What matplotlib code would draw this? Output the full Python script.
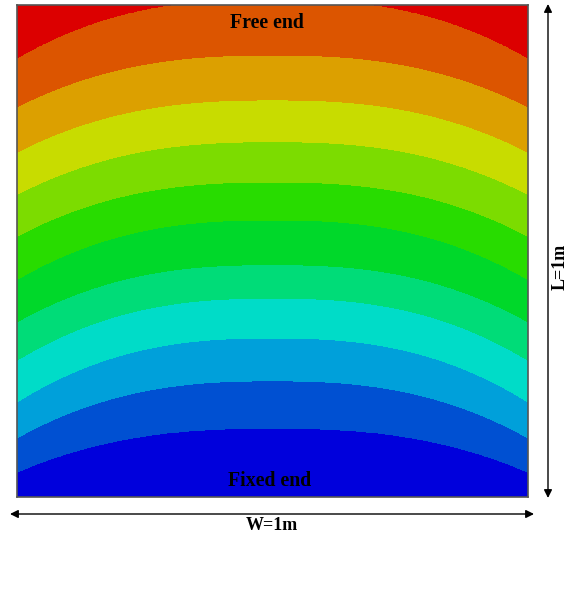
import numpy as np
import matplotlib
matplotlib.use('Agg')
import matplotlib.pyplot as plt

# band boundaries (fraction of L from the fixed end), read at the centre line and at the side edges
centre_bounds = [0.140, 0.236, 0.323, 0.404, 0.472, 0.563, 0.640, 0.722, 0.807, 0.898, 1.012]
edge_bounds = [0.051, 0.120, 0.193, 0.278, 0.356, 0.442, 0.530, 0.615, 0.701, 0.793, 0.892]
band_colors = ['#0000DC', '#0050D2', '#00A0DA', '#00DCC8', '#00DC78', '#00D82A',
               '#28DC00', '#7CDC00', '#C8DC00', '#DCA000', '#DC5500', '#DC0000']
bow_power = 2.5     # flatness of the bands across the width
top_label = 'Free end'
bottom_label = 'Fixed end'
w_label = 'W=1m'
l_label = 'L=1m'

W, H = 581, 605
fig = plt.figure(figsize=(W / 100, H / 100), dpi=100)

def fx(px):
    return px / W

def fy(py):
    return 1 - py / H

ax = fig.add_axes([fx(17), fy(497), fx(528) - fx(17), fy(5) - fy(497)])

# band index field: boundaries bend from centre value down to edge value
x = np.linspace(0, 1, 700)
y = np.linspace(0, 1, 700)
c = np.array(centre_bounds)
e = np.array(edge_bounds)
n = len(c)
idx = np.arange(n) + 0.5
Z = np.zeros((len(y), len(x)))
for j, xv in enumerate(x):
    u = abs(2 * xv - 1) ** bow_power
    yb = c - (c - e) * u
    Z[:, j] = np.interp(y, np.r_[-1.0, yb, 2.0], np.r_[-1.0, idx, n + 1.0])

levels = np.r_[-2.0, idx, n + 2.0]
ax.contourf(x, y, Z, levels=levels, colors=band_colors)
ax.set_xlim(0, 1)
ax.set_ylim(0, 1)
ax.set_xticks([])
ax.set_yticks([])
for s in ax.spines.values():
    s.set_color('#555555')
    s.set_linewidth(1.2)

font = dict(family='Liberation Serif', fontweight='bold', color='black')
fig.text(fx(267), fy(23), top_label, ha='center', va='center', fontsize=14.3, **font)
fig.text(fx(270), fy(481), bottom_label, ha='center', va='center', fontsize=14.3, **font)

arrow = dict(arrowstyle='<|-|>', color='black', lw=1.0, mutation_scale=12, shrinkA=0, shrinkB=0)
plt.annotate('', xy=(fx(10), fy(514)), xytext=(fx(534), fy(514)),
             xycoords='figure fraction', textcoords='figure fraction', arrowprops=arrow)
plt.annotate('', xy=(fx(548), fy(4)), xytext=(fx(548), fy(498)),
             xycoords='figure fraction', textcoords='figure fraction', arrowprops=arrow)
fig.text(fx(272), fy(526), w_label, ha='center', va='center', fontsize=13, **font)
fig.text(fx(560), fy(267), l_label, ha='center', va='center', rotation=90, fontsize=13, **font)

fig.savefig('out.png', dpi=100)
